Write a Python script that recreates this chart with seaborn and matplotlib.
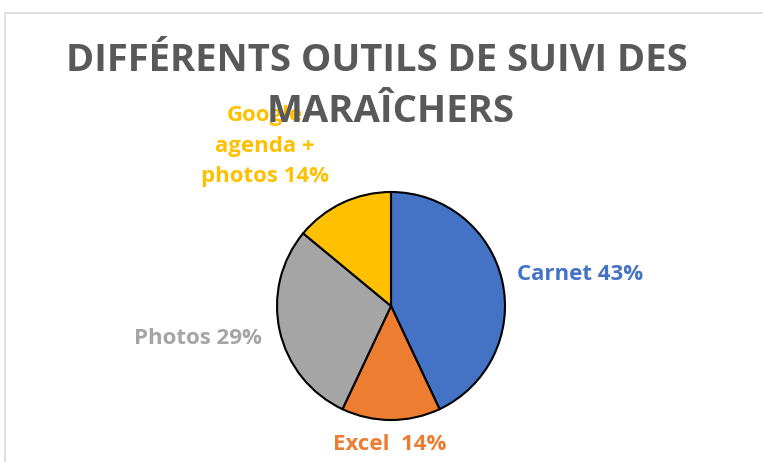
import matplotlib
matplotlib.use("Agg")
import matplotlib.pyplot as plt
from matplotlib.lines import Line2D
import seaborn as sns

categories = ["Carnet", "Excel", "Photos", "Google\nagenda +\nphotos"]
values = [43, 14, 29, 14]
label_texts = ["Carnet 43%", "Excel  14%", "Photos 29%", "Google\nagenda +\nphotos 14%"]
colors = ["#4472C4", "#ED7D31", "#A5A5A5", "#FFC000"]
title_lines = ["DIFFÉRENTS OUTILS DE SUIVI DES", "MARAÎCHERS"]

sns.set_theme(style="white")
plt.rcParams['font.family'] = ['Open Sans', 'DejaVu Sans']

W, H = 763, 462
fig = plt.figure(figsize=(W / 100, H / 100), dpi=100)
fig.patch.set_facecolor("white")

# border (top and left)
fig.add_artist(Line2D([5 / W, 1], [1 - 13 / H, 1 - 13 / H], color="#D9D9D9", lw=1.2))
fig.add_artist(Line2D([5 / W, 5 / W], [0, 1 - 13 / H], color="#D9D9D9", lw=1.2))

cx, cy, r = 391, 306, 114
ax = fig.add_axes([(cx - r) / W, (H - cy - r) / H, 2 * r / W, 2 * r / H])
ax.pie(values, colors=colors, startangle=90, counterclock=False,
       wedgeprops=dict(edgecolor="black", linewidth=1.5))
ax.set_xlim(-1, 1)
ax.set_ylim(-1, 1)
ax.set_aspect("equal")
ax.axis("off")

label_pos = [(580, 275), (390, 445), (198, 338), (265, 146)]
for txt, col, (x, y) in zip(label_texts, colors, label_pos):
    fig.text(x / W, 1 - y / H, txt, color=col, fontsize=16, fontweight="bold",
             ha="center", va="center", linespacing=1.6, zorder=1)

title_pos = [(377, 61), (391, 112)]
for txt, (x, y) in zip(title_lines, title_pos):
    fig.text(x / W, 1 - y / H, txt, color="#595959", fontsize=27.5, fontweight="bold",
             ha="center", va="center", zorder=5)

fig.savefig("out.png", dpi=100)
